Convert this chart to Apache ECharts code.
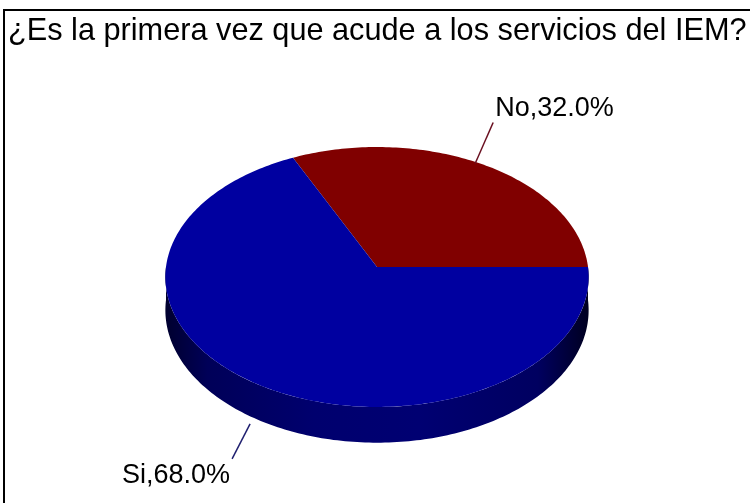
<!DOCTYPE html>
<html>
<head>
<meta charset="utf-8">
<script src="https://cdn.jsdelivr.net/npm/echarts@6/dist/echarts.min.js"></script>
<style>
html,body{margin:0;padding:0;background:#fff;}
#main{width:750px;height:503px;}
</style>
</head>
<body>
<div id="main"></div>
<script>
const chartTitle = '¿Es la primera vez que acude a los servicios del IEM?';
const categories = ['No', 'Si'];
const values = [32.0, 68.0];
const topColors = ['#800000', '#0000A0'];
const lineColors = ['#6a1020', '#202070'];

// projection geometry (tilted pie with perspective)
const CX = 377, CY = 267, RX = 211, RY = 129.2, K = 0.0769, DEPTH = 33;

function proj(theta, r, depth) {
  const X = r * Math.cos(theta), Z = r * Math.sin(theta);
  const den = 1 + K * Z;
  return [CX + RX * X / den, CY + (-RY * Z + depth) / den];
}
function arc(a0, a1, depth) {
  const pts = [];
  const n = Math.max(2, Math.ceil(Math.abs(a1 - a0) / (Math.PI / 180)));
  for (let i = 0; i <= n; i++) {
    pts.push(proj(a0 + (a1 - a0) * i / n, 1, depth));
  }
  return pts;
}
const total = values.reduce((s, v) => s + v, 0);
function sliceAngles(idx) {
  let start = 0;
  for (let i = 0; i < idx; i++) start += values[i] / total * Math.PI * 2;
  return [start, start + values[idx] / total * Math.PI * 2];
}
const seriesData = categories.map((c, i) => ({ name: c, value: values[i] }));

const chart = echarts.init(document.getElementById('main'));
chart.setOption({
  animation: false,
  graphic: [
    { type: 'rect', shape: { x: 4, y: 10, width: 760, height: 510 },
      style: { fill: 'none', stroke: '#000', lineWidth: 2 }, z: 10 },
    { type: 'text', left: 8, top: 16,
      style: { text: chartTitle, font: '30.7px "Liberation Sans", Arial, sans-serif', fill: '#000' }, z: 10 }
  ],
  series: [
    {
      type: 'custom', coordinateSystem: 'none', data: seriesData, z: 1,
      renderItem: function (params, api) {
        const idx = params.dataIndex;
        const [a0, a1] = sliceAngles(idx);
        const lo = Math.max(a0, Math.PI), hi = Math.min(a1, Math.PI * 2);
        if (hi <= lo) return null;
        const pts = arc(lo, hi, 0).concat(arc(hi, lo, DEPTH));
        const dark = idx === 1 ?
          [[0, '#00002e'], [0.1, '#000058'], [0.35, '#00006e'], [0.6, '#000072'], [0.88, '#000060'], [1, '#000020']] :
          [[0, '#300000'], [0.3, '#5a0000'], [0.7, '#5a0000'], [1, '#200000']];
        return {
          type: 'polygon', shape: { points: pts },
          style: { fill: new echarts.graphic.LinearGradient(0, 0, 1, 0, dark.map(d => ({ offset: d[0], color: d[1] }))) }
        };
      }
    },
    {
      type: 'custom', coordinateSystem: 'none', data: seriesData, z: 2,
      renderItem: function (params, api) {
        const idx = params.dataIndex;
        const [a0, a1] = sliceAngles(idx);
        const pts = [[CX, CY]].concat(arc(a0, a1, 0));
        const mid = (a0 + a1) / 2;
        const upper = Math.sin(mid) > 0;
        let start, end, label;
        const txt = categories[idx] + ',' + api.value(0).toFixed(1) + '%';
        if (upper) {
          start = proj(mid, 1, 0); start = [start[0] - 8, start[1] - 1];
          end = [start[0] + 18, start[1] - 41];
          label = { type: 'text', style: { text: txt, x: end[0] + 2, y: end[1] - 1, align: 'left', verticalAlign: 'bottom',
            font: '27px "Liberation Sans", Arial, sans-serif', fill: '#000' } };
        } else {
          start = proj(mid, 1, DEPTH); start = [start[0] - 6, start[1] + 5];
          end = [start[0] - 18, start[1] + 35];
          label = { type: 'text', style: { text: txt, x: end[0] - 2, y: end[1] + 3, align: 'right', verticalAlign: 'top',
            font: '27px "Liberation Sans", Arial, sans-serif', fill: '#000' } };
        }
        return {
          type: 'group',
          children: [
            { type: 'polygon', shape: { points: pts }, style: { fill: topColors[idx] } },
            { type: 'line', shape: { x1: start[0], y1: start[1], x2: end[0], y2: end[1] },
              style: { stroke: lineColors[idx], lineWidth: 1.5 } },
            label
          ]
        };
      }
    }
  ]
});
</script>
</body>
</html>
